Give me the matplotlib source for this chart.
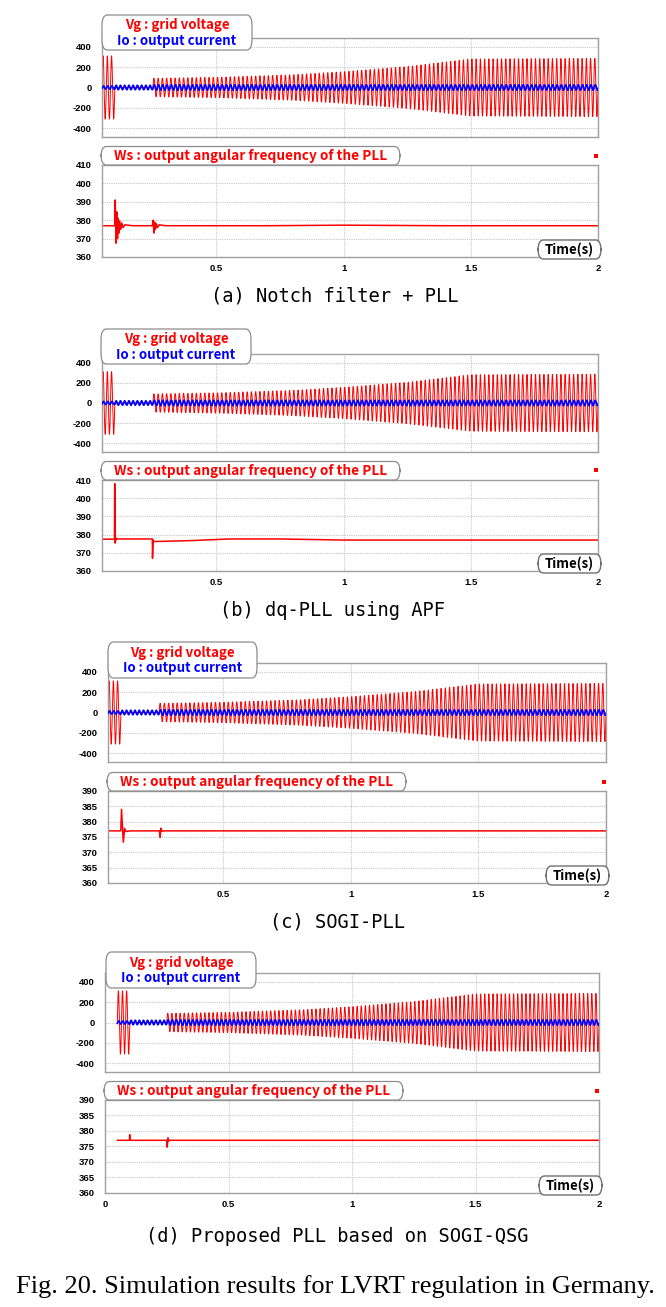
import numpy as np
import matplotlib
matplotlib.use("Agg")
import matplotlib.pyplot as plt
from matplotlib.patches import FancyBboxPatch, Rectangle

# ---------------- data ----------------
grid_freq = 60.0                      # Hz  (Ws ~ 377 rad/s)
t_start, t_end = 0.05, 2.0

# grid-voltage envelope (peak, V)
vg_env_t = [0.05, 0.0999, 0.1, 0.2499, 0.25, 0.5, 0.8, 1.0, 1.25, 1.5, 2.0]
vg_env_a = [310, 310, 0, 0, 90, 100, 125, 155, 205, 280, 285]
# output-current envelope (peak, A)
io_env_t = [0.05, 0.0999, 0.1, 0.2499, 0.25, 2.0]
io_env_a = [16, 16, 22, 22, 27, 27]

# Ws : output angular frequency of the PLL (rad/s)
ws_a_t = [0.05, 0.100, 0.102, 0.105, 0.108, 0.111, 0.114, 0.117, 0.120, 0.124,
          0.128, 0.133, 0.140, 0.170, 0.248, 0.251, 0.254, 0.257, 0.260, 0.264,
          0.268, 0.275, 0.30, 0.7, 1.0, 1.4, 2.0]
ws_a_v = [377, 377, 391, 367.5, 384.5, 370, 381, 373, 379.5, 375,
          378.5, 376, 377.5, 377, 377, 380, 373, 379, 375, 378,
          376, 377.5, 377, 377, 377.3, 377, 377]

ws_b_t = [0.05, 0.099, 0.100, 0.1015, 0.103, 0.106, 0.11, 0.248, 0.2485, 0.251,
          0.254, 0.26, 0.4, 0.55, 0.75, 1.0, 2.0]
ws_b_v = [377.5, 377.5, 408, 375.3, 376.5, 378, 377.6, 377.6, 367, 377,
          376.2, 376.2, 376.7, 377.6, 377.6, 377, 377]

ws_c_t = [0.05, 0.100, 0.103, 0.110, 0.115, 0.120, 0.14, 0.251, 0.254, 0.257,
          0.261, 0.27, 2.0]
ws_c_v = [377, 377, 384, 373.3, 377.8, 376.8, 377, 377, 374.9, 377.9,
          376.9, 377, 377]

ws_d_t = [0.05, 0.099, 0.100, 0.101, 0.102, 0.250, 0.252, 0.255, 0.258, 0.262, 2.0]
ws_d_v = [377, 377, 378.8, 377, 377, 377, 374.8, 377.8, 376.8, 377, 377]

captions = ["(a) Notch filter + PLL", "(b) dq-PLL using APF",
            "(c) SOGI-PLL", "(d) Proposed PLL based on SOGI-QSG"]
fig_caption = "Fig. 20. Simulation results for LVRT regulation in Germany."

top_yticks = [-400, -200, 0, 200, 400]
low_yticks_ab = [360, 370, 380, 390, 400, 410]
low_yticks_cd = [360, 365, 370, 375, 380, 385, 390]
xticks_abc = [0.5, 1, 1.5, 2]
xticks_d = [0, 0.5, 1, 1.5, 2]
xtick_labels_abc = ["0.5", "1", "1.5", "2"]
xtick_labels_d = ["0", "0.5", "1", "1.5", "2"]

# ---------------- figure ----------------
W, H = 666, 1307
fig = plt.figure(figsize=(W / 100, H / 100), dpi=100)
fig.patch.set_facecolor("white")

RED = "#ff0000"
BLUE = "#0000ff"
EDGE = "#a0a0a0"
GRID = "#c8c8c8"
TICKFONT = dict(family=["Liberation Sans", "DejaVu Sans"], weight="bold", size=6.8)
LABFONT = ["Noto Sans CJK KR", "DejaVu Sans"]


def fx(x):
    return x / W


def fy(y):
    return 1 - y / H


def add_axes_px(l, t, r, b):
    return fig.add_axes([fx(l), fy(b), (r - l) / W, (b - t) / H])


def style_axes(ax, xlim, xticks, xlabels, ylim, yticks, show_x):
    ax.set_xlim(*xlim)
    ax.set_ylim(*ylim)
    ax.set_yticks(yticks)
    ax.set_yticklabels([str(v) for v in yticks], fontdict=TICKFONT)
    ax.set_xticks(xticks)
    if show_x:
        ax.set_xticklabels(xlabels, fontdict=TICKFONT)
    else:
        ax.set_xticklabels([])
    ax.tick_params(length=0, pad=7.5, axis="y")
    ax.tick_params(length=0, pad=5, axis="x")
    ax.grid(True, color=GRID, linestyle=(0, (1, 1)), linewidth=0.8)
    ax.set_axisbelow(True)
    for s in ax.spines.values():
        s.set_color(EDGE)
        s.set_linewidth(1.0)


def rbox(x0, y0, x1, y1, ec="#8c8c8c", lw=0.9):
    p = FancyBboxPatch((fx(x0), fy(y1)), (x1 - x0) / W, (y1 - y0) / H,
                       boxstyle="round,pad=0,rounding_size=0.008",
                       transform=fig.transFigure, facecolor="white",
                       edgecolor=ec, linewidth=lw, zorder=10)
    fig.add_artist(p)


t = np.linspace(t_start, t_end, 60000)
vg = np.interp(t, vg_env_t, vg_env_a) * np.sin(2 * np.pi * grid_freq * (t - t_start))
io = np.interp(t, io_env_t, io_env_a) * np.sin(2 * np.pi * grid_freq * (t - t_start) - 0.6)

panels = [
    dict(top=(102, 38, 598, 137), low=(102, 165, 598, 257), ws=(ws_a_t, ws_a_v),
         xlim=(0.05, 2.0), xt=xticks_abc, xl=xtick_labels_abc, ly=low_yticks_ab,
         lylim=(360, 410), leg=(102, 15, 252, 50), cap_y=296, cap_x=335),
    dict(top=(102, 354, 598, 452), low=(102, 480, 598, 571), ws=(ws_b_t, ws_b_v),
         xlim=(0.05, 2.0), xt=xticks_abc, xl=xtick_labels_abc, ly=low_yticks_ab,
         lylim=(360, 410), leg=(101, 329, 251, 364), cap_y=610, cap_x=332),
    dict(top=(108, 663, 606, 762), low=(108, 791, 606, 883), ws=(ws_c_t, ws_c_v),
         xlim=(0.05, 2.0), xt=xticks_abc, xl=xtick_labels_abc, ly=low_yticks_cd,
         lylim=(360, 390), leg=(108, 642, 257, 678), cap_y=922, cap_x=337),
    dict(top=(105, 973, 599, 1072), low=(105, 1100, 599, 1193), ws=(ws_d_t, ws_d_v),
         xlim=(0.0, 2.0), xt=xticks_d, xl=xtick_labels_d, ly=low_yticks_cd,
         lylim=(360, 390), leg=(106, 952, 256, 988), cap_y=1236, cap_x=337),
]

for p, cap in zip(panels, captions):
    ax1 = add_axes_px(*p["top"])
    ax1.plot(t, vg, color=RED, lw=0.7, zorder=2)
    ax1.plot(t, io, color=BLUE, lw=1.2, zorder=3)
    style_axes(ax1, p["xlim"], p["xt"], p["xl"], (-485, 485), top_yticks, False)

    ax2 = add_axes_px(*p["low"])
    ax2.plot(p["ws"][0], p["ws"][1], color=RED, lw=1.1, zorder=2)
    style_axes(ax2, p["xlim"], p["xt"], p["xl"], p["lylim"], p["ly"], True)

    # legend box of top axes
    x0, y0, x1, y1 = p["leg"]
    rbox(x0, y0, x1, y1)
    cx = (x0 + x1) / 2
    fig.text(fx(cx), fy(y0 + 10.5), "Vg : grid voltage", color=RED, ha="center",
             va="center", fontsize=9.5, weight="bold", family=LABFONT, zorder=11)
    fig.text(fx(cx), fy(y0 + 26), "Io : output current", color=BLUE, ha="center",
             va="center", fontsize=9.5, weight="bold", family=LABFONT, zorder=11)

    # title box of lower axes
    l, tp, r, b = p["low"]
    rbox(l - 1, tp - 18.5, l + 298, tp)
    fig.text(fx(l + 148.5), fy(tp - 9), "Ws : output angular frequency of the PLL",
             color=RED, ha="center", va="center", fontsize=9.8, weight="bold",
             family=LABFONT, zorder=11)

    # red marker
    fig.add_artist(Rectangle((fx(r - 4), fy(tp - 7.5)), 4 / W, 4 / H,
                             transform=fig.transFigure, facecolor=RED,
                             edgecolor="none", zorder=11))

    # Time(s) box
    rbox(r - 60, b - 17, r + 3, b + 2, ec="#707070", lw=1.0)
    fig.text(fx(r - 28.5), fy(b - 7.5), "Time(s)", color="black", ha="center",
             va="center", fontsize=9.5, weight="bold", family=LABFONT, zorder=11)

    # caption
    fig.text(fx(p["cap_x"]), fy(p["cap_y"]), cap, ha="center", va="center",
             fontsize=13.5, family=["DejaVu Sans Mono"], color="black")

fig.text(fx(335), fy(1287), fig_caption, ha="center", va="center", fontsize=19,
         family=["Liberation Serif", "DejaVu Serif"], color="black")

fig.savefig("out.png", dpi=100)
